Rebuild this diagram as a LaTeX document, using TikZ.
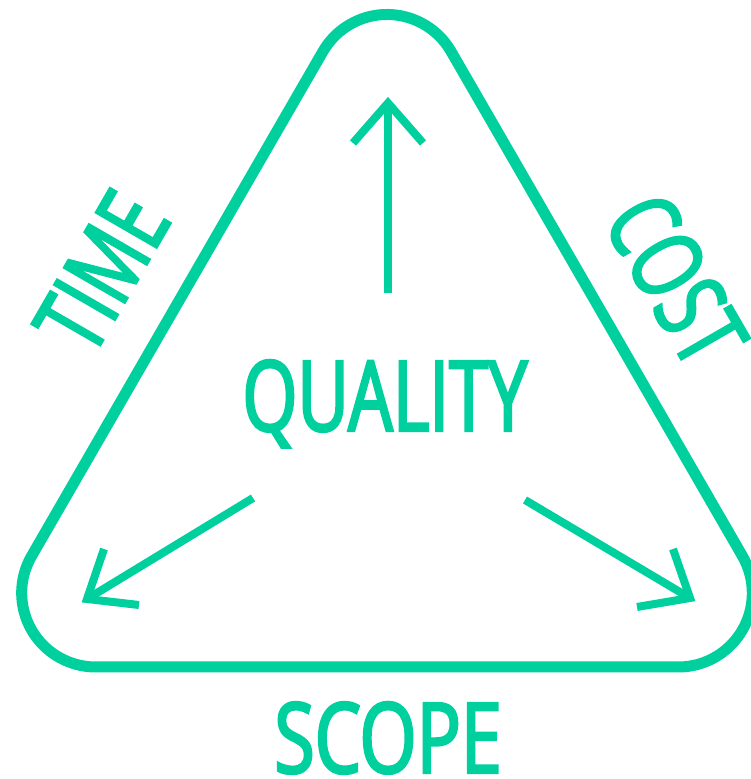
\documentclass[tikz,border=0pt]{standalone}
\usepackage{fontspec}
\usepackage{graphicx}
\usetikzlibrary{calc}
\newfontfamily\lblfont[FakeStretch=0.72,FakeBold=2.5]{Open Sans}
\definecolor{tg}{RGB}{0,208,158}
\tikzset{
  tri/.style={draw=tg, line width=11pt, line join=round},
  arr/.style={draw=tg, line width=8pt, line join=miter, line cap=butt},
  lbl/.style={text=tg, font=\lblfont\fontsize{98}{98}\selectfont, inner sep=0pt}
}
\begin{document}
\begin{tikzpicture}[x=1pt,y=1pt]
\useasboundingbox (0,0) rectangle (751,779);
\coordinate (CT) at (387,690.5);
\coordinate (CL) at (95.7,186);
\coordinate (CR) at (678.3,186);
\draw[tri] ($(CL)+(-90:74)$) -- ($(CR)+(-90:74)$)
  arc[start angle=-90,end angle=30,radius=74]
  -- ($(CT)+(30:74)$)
  arc[start angle=30,end angle=150,radius=74]
  -- ($(CL)+(150:74)$)
  arc[start angle=150,end angle=270,radius=74] -- cycle;
% up arrow
\coordinate (us) at (388,486);
\coordinate (ut) at (388,676);
\coordinate (ua) at (353,636);
\coordinate (ub) at (423,636);
\draw[arr] (us) -- (ut);
\draw[arr] (ua) -- (ut) -- (ub);
% left arrow
\coordinate (ls) at (253,281);
\coordinate (lt) at (87,180);
\coordinate (la) at (104,230);
\coordinate (lb) at (139,174);
\draw[arr] (ls) -- (lt);
\draw[arr] (la) -- (lt) -- (lb);
% right arrow
\coordinate (rs) at (525,279);
\coordinate (rt) at (690,181);
\coordinate (ra) at (673,230);
\coordinate (rb) at (637,172);
\draw[arr] (rs) -- (rt);
\draw[arr] (ra) -- (rt) -- (rb);
% labels
\node[lbl, anchor=base] (q) at (385,348) {QUALITY};
\node[lbl, anchor=base] (s) at (388,6) {\scalebox{1.04}[1]{SCOPE}};
\node[lbl, rotate=60] (t) at (102,507) {TIME};
\node[lbl, rotate=-60] (c) at (676,499) {COST};
\end{tikzpicture}
\end{document}
